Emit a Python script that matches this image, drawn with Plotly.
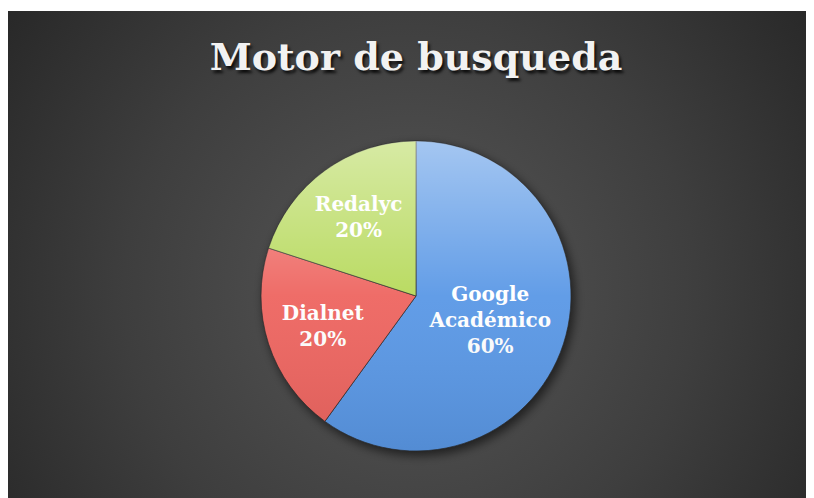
import base64
import plotly.graph_objects as go

# data
engines = ["Google Académico", "Dialnet", "Redalyc"]
engine_text = ["Google<br>Académico", "Dialnet", "Redalyc"]
shares = [60, 20, 20]

COLORS = ["#5a98e6", "#ee6560", "#b6d95a"]

# page adds an 8px body margin, so the figure is drawn 8px smaller and shifted
OFF = 8
W, H = 814 - OFF, 498 - OFF
# plot box (pie is drawn inside this square)
L, T = 261 - OFF, 141 - OFF
PW = PH = 310
R, B = W - L - PW, H - T - PH
CX, CY, RAD = L + PW / 2, T + PH / 2, PW / 2

# dark radial background + soft shadow under the pie
bg_svg = f"""<svg xmlns='http://www.w3.org/2000/svg' width='{W}' height='{H}' viewBox='0 0 {W} {H}' preserveAspectRatio='none'>
<defs>
<radialGradient id='g' cx='{410 - OFF}' cy='{290 - OFF}' r='520' gradientUnits='userSpaceOnUse'>
<stop offset='0' stop-color='#575757'/>
<stop offset='0.55' stop-color='#3e3e3e'/>
<stop offset='1' stop-color='#252525'/>
</radialGradient>
<filter id='f' x='-20%' y='-20%' width='140%' height='140%'><feGaussianBlur stdDeviation='5'/></filter>
</defs>
<rect x='0' y='{11 - OFF}' width='{W}' height='{H}' fill='url(#g)'/>
<circle cx='{CX + 3}' cy='{CY + 4}' r='{RAD + 1}' fill='black' fill-opacity='0.55' filter='url(#f)'/>
</svg>"""

# light-to-dark sheen over the pie
sheen_svg = f"""<svg xmlns='http://www.w3.org/2000/svg' width='{W}' height='{H}' viewBox='0 0 {W} {H}' preserveAspectRatio='none'>
<defs>
<linearGradient id='s' x1='0' y1='0' x2='0' y2='1'>
<stop offset='0' stop-color='white' stop-opacity='0.45'/>
<stop offset='0.5' stop-color='white' stop-opacity='0.05'/>
<stop offset='1' stop-color='black' stop-opacity='0.08'/>
</linearGradient>
</defs>
<circle cx='{CX}' cy='{CY}' r='{RAD}' fill='url(#s)'/>
</svg>"""


def svg_uri(s):
    return "data:image/svg+xml;base64," + base64.b64encode(s.encode("utf-8")).decode("ascii")


def full_image(src, layer):
    return dict(
        source=svg_uri(src), xref="paper", yref="paper",
        x=-L / PW, y=1 + T / PH, sizex=W / PW, sizey=H / PH,
        xanchor="left", yanchor="top", sizing="stretch", layer=layer,
    )


fig = go.Figure(go.Pie(
    labels=engines,
    values=shares,
    text=engine_text,
    texttemplate="%{text}<br>%{percent:.0%}",
    textposition="inside",
    insidetextorientation="horizontal",
    sort=False,
    direction="clockwise",
    rotation=0,
    marker=dict(colors=COLORS, line=dict(color="rgba(40,40,40,0.7)", width=1)),
    textfont=dict(family="DejaVu Serif", size=20, color="white", weight="bold"),
    hoverinfo="label+percent",
    showlegend=False,
))

fig.update_layout(
    width=W, height=H,
    margin=dict(l=L, r=R, t=T, b=B),
    paper_bgcolor="white",
    plot_bgcolor="rgba(0,0,0,0)",
    title=dict(
        text="Motor de busqueda",
        x=(416 - OFF) / W, xanchor="center",
        y=1 - (57 - OFF) / H, yanchor="middle",
        font=dict(family="DejaVu Serif", size=38, color="#f2f2f2", weight="bold",
                  shadow="2px 3px 3px rgba(0,0,0,0.8)"),
    ),
    images=[full_image(bg_svg, "below"), full_image(sheen_svg, "above")],
)

fig.write_html("out.html")
